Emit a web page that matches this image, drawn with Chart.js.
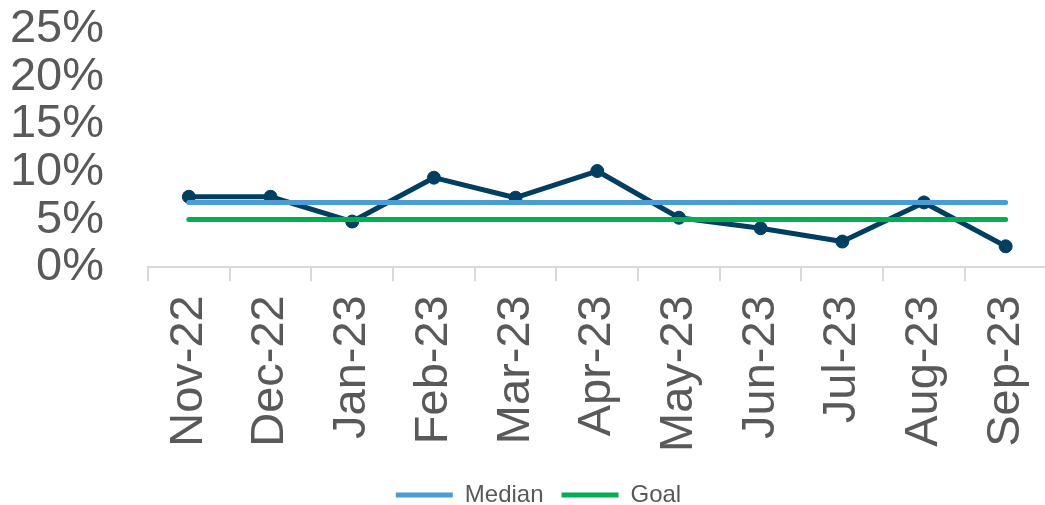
<!DOCTYPE html>
<html>
<head>
<meta charset="utf-8">
<script src="https://cdn.jsdelivr.net/npm/chart.js@4"></script>
<style>
  html, body { margin: 0; padding: 0; background: #fff; }
  #chart { display: block; }
</style>
</head>
<body>
<canvas id="chart" width="1045" height="505"></canvas>
<script>
// --- data ---
const months = ['Nov-22', 'Dec-22', 'Jan-23', 'Feb-23', 'Mar-23', 'Apr-23',
                'May-23', 'Jun-23', 'Jul-23', 'Aug-23', 'Sep-23'];
const rateValues = [7.4, 7.4, 4.8, 9.4, 7.3, 10.1, 5.2, 4.1, 2.7, 6.8, 2.2];
const medianValues = [6.8, 6.8, 6.8, 6.8, 6.8, 6.8, 6.8, 6.8, 6.8, 6.8, 6.8];
const goalValues = [5, 5, 5, 5, 5, 5, 5, 5, 5, 5, 5];
const yTicks = [0, 5, 10, 15, 20, 25];

const FONT = "'Liberation Sans', Arial, sans-serif";
const TEXT = '#595959';
const AXIS = '#d9d9d9';

const get = (id) => document.getElementById(id);

// plot area in the original runs a few px past the right edge of the image,
// and its legend sits a little right of centre
const tweakLayout = {
    id: 'tweakLayout',
    afterLayout(chart) {
        const extra = 9;
        const x = chart.scales.x;
        x.right += extra;
        x.width += extra;
        x.configure();
        chart.chartArea.right += extra;
        chart.chartArea.width += extra;
        if (chart.legend) {
            chart.legend.left += 11;
            chart.legend.right += 11;
        }
    }
};

new Chart(get('chart').getContext('2d'), {
    type: 'line',
    data: {
        labels: months,
        datasets: [
            {
                label: 'Rate',
                data: rateValues,
                borderColor: '#003f5f',
                backgroundColor: '#003f5f',
                borderWidth: 5,
                pointRadius: 6.5,
                pointBorderWidth: 1,
                pointHoverRadius: 6.5,
                borderJoinStyle: 'round',
                tension: 0,
                order: 3
            },
            {
                label: 'Median',
                data: medianValues,
                borderColor: '#4b9cd3',
                backgroundColor: '#4b9cd3',
                borderWidth: 5,
                borderCapStyle: 'round',
                pointRadius: 0,
                pointStyle: 'line',
                order: 2
            },
            {
                label: 'Goal',
                data: goalValues,
                borderColor: '#00b050',
                backgroundColor: '#00b050',
                borderWidth: 5,
                borderCapStyle: 'round',
                pointRadius: 0,
                pointStyle: 'line',
                order: 1
            }
        ]
    },
    plugins: [tweakLayout],
    options: {
        responsive: false,
        animation: false,
        layout: { padding: { left: 10, right: 0, top: 29, bottom: -12 } },
        plugins: {
            tooltip: { enabled: false },
            legend: {
                position: 'bottom',
                labels: {
                    filter: (item) => item.text !== 'Rate',
                    sort: (a, b) => a.datasetIndex - b.datasetIndex,
                    usePointStyle: true,
                    pointStyleWidth: 57,
                    color: TEXT,
                    font: { family: FONT, size: 24 },
                    padding: 18
                }
            }
        },
        scales: {
            x: {
                offset: true,
                grid: {
                    offset: true,
                    drawOnChartArea: false,
                    color: AXIS,
                    lineWidth: 2,
                    tickLength: 14
                },
                border: { display: true, color: AXIS, width: 2 },
                ticks: {
                    minRotation: 90,
                    maxRotation: 90,
                    autoSkip: false,
                    color: TEXT,
                    font: { family: FONT, size: 47 },
                    padding: 14
                },
                afterFit: (axis) => {
                    axis.paddingLeft = 0;
                    axis.paddingRight = 0;
                    axis.height -= 1;
                }
            },
            y: {
                min: 0,
                max: 25,
                afterBuildTicks: (axis) => { axis.ticks = yTicks.map(v => ({ value: v })); },
                grid: { display: false, drawTicks: false },
                border: { display: false },
                ticks: {
                    autoSkip: false,
                    color: TEXT,
                    font: { family: FONT, size: 47 },
                    padding: 44,
                    callback: (v) => v + '%'
                },
                afterFit: (axis) => {
                    axis.width = 138;
                    axis.paddingTop = 0;
                    axis.paddingBottom = 0;
                }
            }
        }
    }
});
</script>
</body>
</html>
